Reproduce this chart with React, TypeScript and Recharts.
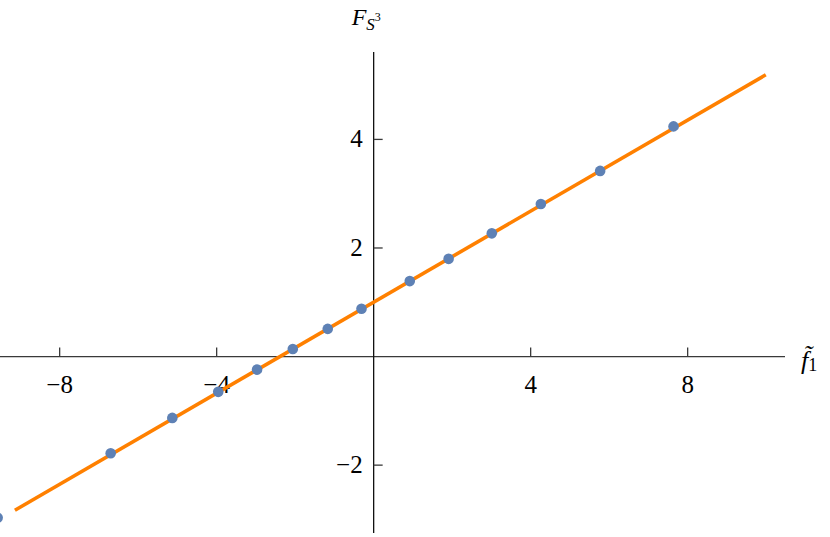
import { ComposedChart, Scatter, Line, XAxis, YAxis, ReferenceLine } from "recharts"

// sampled points (f1, F_S3)
const pointX = [-9.58, -6.7, -5.13, -3.96, -2.97, -2.06, -1.17, -0.31, 0.92, 1.91, 3.01, 4.26, 5.77, 7.64]
const pointY = [-2.97, -1.78, -1.13, -0.65, -0.24, 0.14, 0.51, 0.88, 1.39, 1.8, 2.27, 2.81, 3.42, 4.24]

// fitted straight line, endpoints only
const fitX = [-9.14, 9.99]
const fitY = [-2.83, 5.19]

const xTicks = [-8, -4, 4, 8]
const yTicks = [-2, 2, 4]
const xTickLabels = ["\u22128", "\u22124", "4", "8"]
const yTickLabels = ["\u22122", "2", "4"]

const points = pointX.map((x, i) => ({ x, y: pointY[i] }))
const fit = fitX.map((x, i) => ({ x, y: fitY[i] }))

const FAMILY = '"Liberation Serif", "Times New Roman", serif'
const tickStyle = { fontFamily: FAMILY, fontSize: "25px", fill: "#000" }
const AXIS = "#3a3a3a"

export default function App() {
  return (
    <div style={{ position: "absolute", left: 0, top: 0, background: "#fff" }}>
      <ComposedChart width={830} height={537} margin={{ top: 52, right: 45, bottom: 4, left: 0 }}>
        <XAxis type="number" dataKey="x" domain={[-9.52, 10.48]} allowDataOverflow hide />
        <YAxis type="number" dataKey="y" domain={[-3.25, 5.61]} allowDataOverflow hide />

        {/* axes through the origin */}
        <ReferenceLine
          y={0}
          stroke={AXIS}
          strokeWidth={1.3}
          shape={(p: any) => (
            <g>
              <line x1={p.x1} y1={p.y1} x2={p.x2} y2={p.y2} stroke={AXIS} strokeWidth={1.3} />
              <text
                x={Math.max(p.x1, p.x2) + 16}
                y={p.y1 + 12}
                style={{ fontFamily: FAMILY, fontStyle: "italic", fontSize: "26px", fill: "#000" }}
              >
                {"f\u0303"}
                <tspan dy={2} style={{ fontStyle: "normal", fontSize: "18px" }}>1</tspan>
              </text>
            </g>
          )}
        />
        <ReferenceLine
          x={0}
          stroke="#111"
          strokeWidth={1.3}
          shape={(p: any) => (
            <g>
              <line x1={p.x1} y1={p.y1} x2={p.x2} y2={p.y2} stroke="#111" strokeWidth={1.3} />
              <text
                x={p.x1 - 22}
                y={Math.min(p.y1, p.y2) - 27}
                style={{ fontFamily: FAMILY, fontStyle: "italic", fontSize: "24px", fill: "#000" }}
              >
                F
                <tspan dy={5} style={{ fontSize: "17px" }}>S</tspan>
                <tspan dy={-9} style={{ fontSize: "12px", fontStyle: "normal" }}>3</tspan>
              </text>
            </g>
          )}
        />

        {xTicks.map((t, i) => (
          <ReferenceLine
            key={"xt" + t}
            segment={[{ x: t, y: 0 }, { x: t, y: 0 }]}
            shape={(p: any) => (
              <g>
                <line x1={p.x1} y1={p.y1} x2={p.x1} y2={p.y1 - 9} stroke={AXIS} strokeWidth={1.3} />
                <text x={p.x1} y={p.y1 + 36} textAnchor="middle" style={tickStyle}>
                  {xTickLabels[i]}
                </text>
              </g>
            )}
          />
        ))}
        {yTicks.map((t, i) => (
          <ReferenceLine
            key={"yt" + t}
            segment={[{ x: 0, y: t }, { x: 0, y: t }]}
            shape={(p: any) => (
              <g>
                <line x1={p.x1} y1={p.y1} x2={p.x1 + 9} y2={p.y1} stroke={AXIS} strokeWidth={1.3} />
                <text x={p.x1 - 11} y={p.y1 + 8} textAnchor="end" style={tickStyle}>
                  {yTickLabels[i]}
                </text>
              </g>
            )}
          />
        ))}

        <Line
          data={fit}
          dataKey="y"
          type="linear"
          stroke="#FF8000"
          strokeWidth={3.6}
          dot={false}
          activeDot={false}
          isAnimationActive={false}
        />
        <Scatter
          data={points}
          dataKey="y"
          fill="#5E81B5"
          isAnimationActive={false}
          shape={(p: any) => <circle cx={p.cx} cy={p.cy} r={5.3} fill="#5E81B5" />}
        />
      </ComposedChart>
    </div>
  )
}
